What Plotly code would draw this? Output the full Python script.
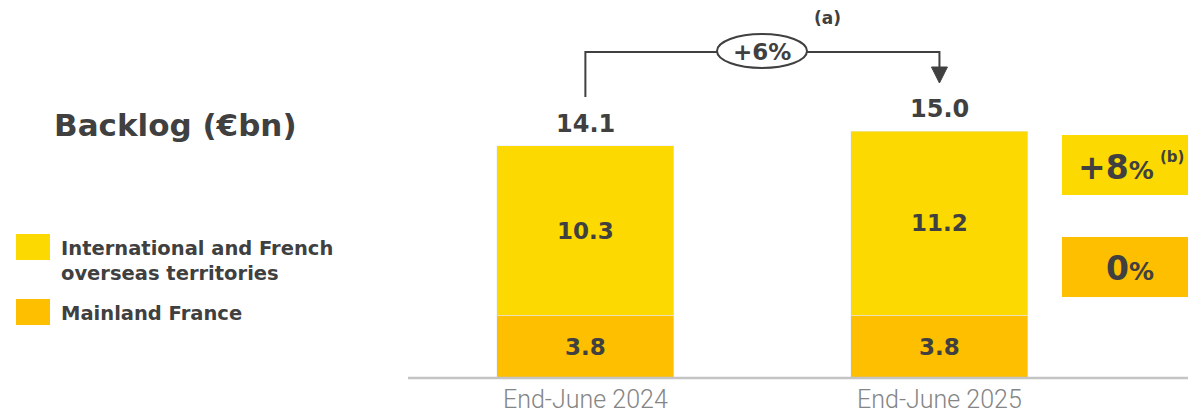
import plotly.graph_objects as go

# ---- data ----
periods = ["End-June 2024", "End-June 2025"]
mainland = [3.8, 3.8]
international = [10.3, 11.2]
totals = [14.1, 15.0]
growth_total = "+6%"
growth_international = "+8"
growth_mainland = "0"

series_names = ["International and French<br>overseas territories", "Mainland France"]

# ---- style ----
W, H = 1188, 416
YELLOW = "#FCD900"
ORANGE = "#FDBF00"
DARK = "#404040"
GREY_TXT = "#858585"
AXIS = "#c4c4c4"
FONT = "DejaVu Sans"


def px(x):
    return x / W


def py(y):
    return 1 - y / H


def bold(size):
    return dict(family=FONT, size=size, color=DARK, weight=700)


fig = go.Figure()
fig.add_trace(go.Bar(
    x=[0, 1], y=mainland, name="Mainland France", marker_color=ORANGE,
    width=0.5, text=[f"{v:.1f}" for v in mainland], textposition="inside",
    insidetextanchor="middle", constraintext="none",
    textfont=bold(23), showlegend=False,
))
fig.add_trace(go.Bar(
    x=[0, 1], y=international, name="International and French overseas territories",
    marker_color=YELLOW, width=0.5, text=[f"{v:.1f}" for v in international],
    textposition="inside", insidetextanchor="middle", constraintext="none",
    textfont=bold(23), showlegend=False,
))

annotations = []
shapes = []

# totals above stacks
for i, t in enumerate(totals):
    annotations.append(dict(
        x=i, y=t, xref="x", yref="y", xanchor="center", yanchor="bottom",
        yshift=6, text=f"{t:.1f}", showarrow=False, font=bold(24),
    ))

# bracket arrow between the two totals
shapes.append(dict(
    type="path", xref="x", yref="paper",
    path=f"M 0,{py(97)} L 0,{py(52)} L 1,{py(52)} L 1,{py(70)}",
    line=dict(color=DARK, width=2),
))
hw = 8 / 354
shapes.append(dict(
    type="path", xref="x", yref="paper",
    path=f"M {1 - hw},{py(67)} L {1 + hw},{py(67)} L 1,{py(83)} Z",
    fillcolor=DARK, line=dict(color=DARK, width=1),
))
shapes.append(dict(
    type="circle", xref="paper", yref="paper",
    x0=px(717), x1=px(807), y0=py(68), y1=py(34),
    fillcolor="white", line=dict(color=DARK, width=2),
))
annotations.append(dict(
    x=px(762), y=py(52), xref="paper", yref="paper", xanchor="center",
    yanchor="middle", text=growth_total, showarrow=False, font=bold(23),
))
annotations.append(dict(
    x=px(827), y=py(18), xref="paper", yref="paper", xanchor="center",
    yanchor="middle", text="(a)", showarrow=False, font=bold(17),
))

# growth boxes on the right
shapes.append(dict(type="rect", xref="paper", yref="paper",
                   x0=px(1062), x1=1, y0=py(195), y1=py(135),
                   fillcolor=YELLOW, line=dict(width=0)))
shapes.append(dict(type="rect", xref="paper", yref="paper",
                   x0=px(1062), x1=1, y0=py(297), y1=py(237),
                   fillcolor=ORANGE, line=dict(width=0)))
annotations.append(dict(
    x=px(1076), y=py(167), xref="paper", yref="paper", xanchor="left",
    yanchor="middle",
    text=f"{growth_international}<span style='font-size:25px'>%</span>",
    showarrow=False, font=bold(33),
))
annotations.append(dict(
    x=px(1186), y=py(157), xref="paper", yref="paper", xanchor="right",
    yanchor="middle", text="(b)", showarrow=False, font=bold(15),
))
annotations.append(dict(
    x=px(1130), y=py(268), xref="paper", yref="paper", xanchor="center",
    yanchor="middle", text=f"{growth_mainland}<span style='font-size:25px'>%</span>",
    showarrow=False, font=bold(33),
))

# title
annotations.append(dict(
    x=px(52), y=py(125), xref="paper", yref="paper", xanchor="left",
    yanchor="middle", text="Backlog (€bn)", showarrow=False, font=bold(31),
))

# legend
for name, color, ytop, ytext in [
    (series_names[0], YELLOW, 234, 261),
    (series_names[1], ORANGE, 299, 313),
]:
    shapes.append(dict(type="rect", xref="paper", yref="paper",
                       x0=px(16), x1=px(50), y0=py(ytop + 26), y1=py(ytop),
                       fillcolor=color, line=dict(width=0)))
    annotations.append(dict(
        x=px(59), y=py(ytext), xref="paper", yref="paper", xanchor="left",
        yanchor="middle", align="left", text=name, showarrow=False,
        font=bold(19.5),
    ))

# baseline
shapes.append(dict(type="line", xref="paper", yref="paper",
                   x0=px(408), x1=1, y0=py(378), y1=py(378),
                   line=dict(color=AXIS, width=2.5)))

fig.update_layout(
    width=W, height=H, barmode="stack", bargap=0.5,
    margin=dict(l=0, r=0, t=0, b=0),
    plot_bgcolor="white", paper_bgcolor="white",
    shapes=shapes, annotations=annotations,
    xaxis=dict(domain=[px(408), 1], range=[-0.501, 1.702], automargin=False,
               tickvals=[0, 1], ticktext=periods, showgrid=False,
               zeroline=False, showline=False, ticks="", ticklabelstandoff=4,
               tickfont=dict(family="Roboto", size=25, color=GREY_TXT, weight=300)),
    yaxis=dict(domain=[38 / H, 1], range=[0, 378 / 16.46], visible=False,
               automargin=False),
)

fig.write_html("out.html")
